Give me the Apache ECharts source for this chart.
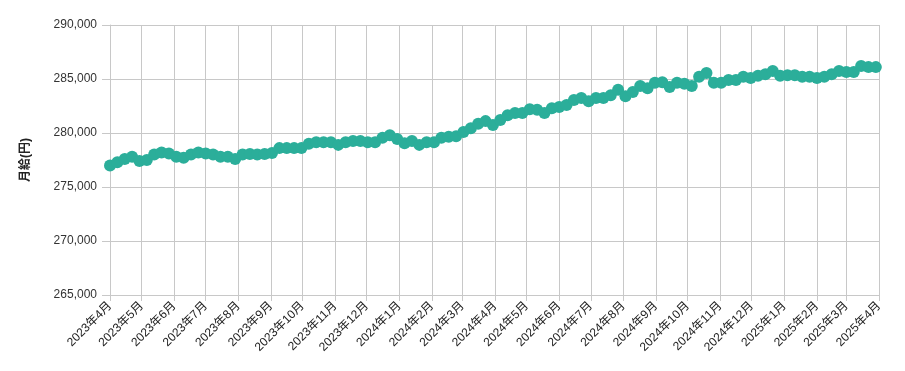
<!DOCTYPE html>
<html>
<head>
<meta charset="utf-8">
<script src="https://cdn.jsdelivr.net/npm/echarts@6/dist/echarts.min.js"></script>
<style>html,body{margin:0;padding:0;background:#fff}#c{width:905px;height:371px}</style>
</head>
<body>
<div id="c"></div>
<script>
const dates = [
'2023-04-01','2023-04-08','2023-04-15','2023-04-22','2023-04-29','2023-05-06','2023-05-13','2023-05-20','2023-05-27','2023-06-03',
'2023-06-10','2023-06-17','2023-06-24','2023-07-01','2023-07-08','2023-07-15','2023-07-22','2023-07-29','2023-08-05','2023-08-12',
'2023-08-19','2023-08-26','2023-09-02','2023-09-09','2023-09-16','2023-09-23','2023-09-30','2023-10-07','2023-10-14','2023-10-21',
'2023-10-28','2023-11-04','2023-11-11','2023-11-18','2023-11-25','2023-12-02','2023-12-09','2023-12-16','2023-12-23','2023-12-30',
'2024-01-06','2024-01-13','2024-01-20','2024-01-27','2024-02-03','2024-02-10','2024-02-17','2024-02-24','2024-03-02','2024-03-09',
'2024-03-16','2024-03-23','2024-03-30','2024-04-06','2024-04-13','2024-04-20','2024-04-27','2024-05-04','2024-05-11','2024-05-18',
'2024-05-25','2024-06-01','2024-06-08','2024-06-15','2024-06-22','2024-06-29','2024-07-06','2024-07-13','2024-07-20','2024-07-27',
'2024-08-03','2024-08-10','2024-08-17','2024-08-24','2024-08-31','2024-09-07','2024-09-14','2024-09-21','2024-09-28','2024-10-05',
'2024-10-12','2024-10-19','2024-10-26','2024-11-02','2024-11-09','2024-11-16','2024-11-23','2024-11-30','2024-12-07','2024-12-14',
'2024-12-21','2024-12-28','2025-01-04','2025-01-11','2025-01-18','2025-01-25','2025-02-01','2025-02-08','2025-02-15','2025-02-22',
'2025-03-01','2025-03-08','2025-03-15','2025-03-22','2025-03-29'
];
const salary = [
277000,277300,277600,277800,277400,277500,278000,278200,278100,277800,
277700,278000,278200,278100,278000,277800,277800,277600,278000,278050,
278000,278050,278150,278600,278600,278600,278600,279000,279150,279150,
279150,278900,279150,279250,279250,279150,279150,279550,279800,279450,
279050,279250,278900,279150,279150,279550,279650,279700,280100,280450,
280850,281100,280750,281200,281650,281850,281850,282200,282150,281850,
282300,282400,282600,283050,283250,282950,283250,283250,283500,284000,
283400,283800,284350,284150,284650,284700,284250,284650,284550,284350,
285200,285550,284650,284650,284900,284900,285200,285100,285300,285450,
285750,285300,285350,285350,285200,285200,285100,285200,285450,285750,
285650,285650,286200,286100,286100
];
const xMin = '2023-04-01';
const xMax = '2025-04-01';
const yMin = 265000, yMax = 290000, yStep = 5000;
const yName = '月給(円)';

const font = "'Liberation Sans', Arial, 'Noto Sans CJK JP', sans-serif";
const chart = echarts.init(document.getElementById('c'));
chart.setOption({
  animation: false,
  grid: {left: 110, right: 26, top: 25, bottom: 76},
  xAxis: {
    type: 'time',
    min: xMin, max: xMax,
    minInterval: 28 * 86400000,
    maxInterval: 31 * 86400000,
    axisLine: {show: true, lineStyle: {color: '#c8c8c8'}},
    axisTick: {show: true, length: 6, lineStyle: {color: '#c8c8c8'}},
    splitLine: {show: true, lineStyle: {color: '#c8c8c8', width: 1}},
    axisLabel: {
      rotate: 45, color: '#222', fontSize: 12, fontFamily: font, margin: 9,
      formatter: function (v) { const d = new Date(v); return d.getFullYear() + '年' + (d.getMonth() + 1) + '月'; },
      showMinLabel: true, showMaxLabel: true, hideOverlap: false
    }
  },
  yAxis: {
    type: 'value', min: yMin, max: yMax, interval: yStep,
    name: yName, nameLocation: 'middle', nameGap: 78, nameRotate: 90,
    nameTextStyle: {fontWeight: 'bold', fontSize: 12, color: '#222', fontFamily: font},
    axisLine: {show: true, lineStyle: {color: '#c8c8c8'}},
    axisTick: {show: true, length: 8, lineStyle: {color: '#c8c8c8'}},
    splitLine: {show: true, lineStyle: {color: '#c8c8c8'}},
    axisLabel: {color: '#333', fontSize: 12, fontFamily: font, margin: 13,
      formatter: v => v.toLocaleString('en-US')}
  },
  series: [{
    type: 'line',
    data: dates.map((d, i) => [d, salary[i]]),
    symbol: 'circle', symbolSize: 12, showAllSymbol: true,
    lineStyle: {color: '#2bae9a', width: 3},
    itemStyle: {color: '#2bae9a'}
  }]
});
</script>
</body>
</html>
